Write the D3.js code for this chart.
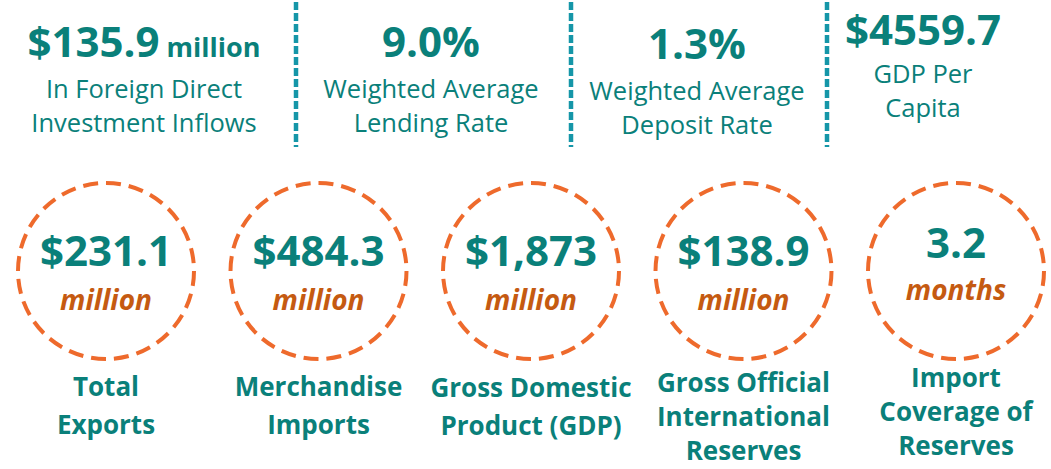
<!DOCTYPE html>
<html><head><meta charset="utf-8">
<script src="https://cdn.jsdelivr.net/npm/d3@7"></script>
<style>html,body{margin:0;padding:0;background:#fff;overflow:hidden}</style>
</head><body><svg id="c" width="1051" height="469"></svg>
<script>
// ---- data ----
const topValues = ["$135.9", "9.0%", "1.3%", "$4559.7"];
const topUnits = [" million", "", "", ""];
const topLabels = [["In Foreign Direct", "Investment Inflows"], ["Weighted Average", "Lending Rate"], ["Weighted Average", "Deposit Rate"], ["GDP Per", "Capita"]];
const circleValues = ["$231.1", "$484.3", "$1,873", "$138.9", "3.2"];
const circleUnits = ["million", "million", "million", "million", "months"];
const circleLabels = [["Total", "Exports"], ["Merchandise", "Imports"], ["Gross Domestic", "Product (GDP)"], ["Gross Official", "International", "Reserves"], ["Import", "Coverage of", "Reserves"]];

// ---- layout ----
const TEAL = "#0A807A", ORANGE = "#EE6A2C", BROWN = "#C55A11", DIV = "#1596A8";
const FONT = "'Open Sans', sans-serif";
const svg = d3.select("#c");
const topCx = [144, 431, 697, 923];
const valY = [57, 57, 59, 45];
const labY = [98, 98, 100, 83];
const dividers = [296, 571, 827];

svg.selectAll("line.div").data(dividers).join("line")
  .attr("x1", d => d).attr("x2", d => d).attr("y1", 2).attr("y2", 147)
  .attr("stroke", DIV).attr("stroke-width", 4.5).attr("stroke-dasharray", "8,3");

const tg = svg.selectAll("g.top").data(topValues).join("g")
  .attr("transform", (d, i) => `translate(${topCx[i]},0)`);
const tv = tg.append("text").attr("y", (d, i) => valY[i]).attr("text-anchor", "middle")
  .attr("font-family", FONT).attr("font-weight", 700).attr("fill", TEAL);
tv.append("tspan").attr("font-size", 42).text(d => d);
tv.append("tspan").attr("font-size", 27).text((d, i) => topUnits[i]);
tg.each(function (d, i) {
  d3.select(this).selectAll("text.lab").data(topLabels[i]).join("text")
    .attr("class", "lab").attr("y", (t, j) => labY[i] + j * 34).attr("text-anchor", "middle")
    .attr("font-family", FONT).attr("font-size", 25.5).attr("fill", TEAL).text(t => t);
});

const x = d3.scalePoint().domain(d3.range(circleValues.length)).range([106, 956]);
const labFirst = [396, 396, 397, 392, 387];
const cg = svg.selectAll("g.circ").data(circleValues).join("g")
  .attr("transform", (d, i) => `translate(${x(i)},0)`);
cg.append("circle").attr("cy", 271).attr("r", 88).attr("fill", "none")
  .attr("stroke", ORANGE).attr("stroke-width", 4).attr("stroke-dasharray", "15,8");
cg.append("text").attr("y", (d, i) => i === 4 ? 258 : 266).attr("text-anchor", "middle")
  .attr("font-family", FONT).attr("font-weight", 700).attr("font-size", 42).attr("fill", TEAL).text(d => d);
cg.append("text").attr("y", (d, i) => i === 4 ? 300 : 310).attr("text-anchor", "middle")
  .attr("font-family", FONT).attr("font-weight", 700).attr("font-style", "italic").attr("font-size", 28)
  .attr("fill", BROWN).text((d, i) => circleUnits[i]);
cg.each(function (d, i) {
  const lines = circleLabels[i];
  const sp = lines.length > 2 ? 34 : 38;
  d3.select(this).selectAll("text.lab").data(lines).join("text")
    .attr("class", "lab").attr("y", (t, j) => labFirst[i] + j * sp).attr("text-anchor", "middle")
    .attr("font-family", FONT).attr("font-weight", 700).attr("font-size", 26).attr("fill", TEAL).text(t => t);
});
</script></body></html>
